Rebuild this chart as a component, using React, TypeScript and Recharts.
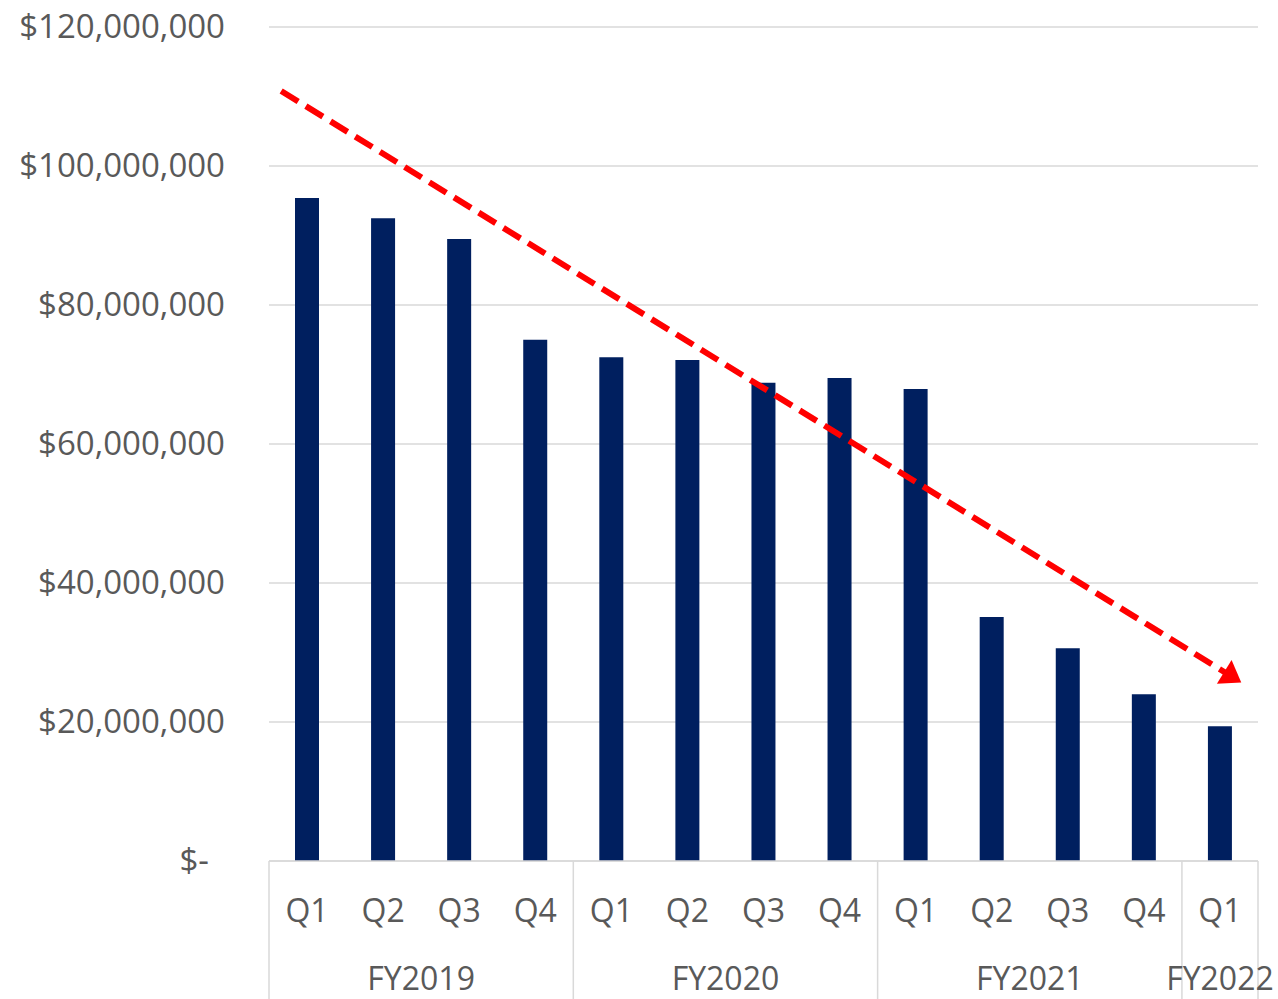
import { Bar, CartesianGrid, ComposedChart, ReferenceLine, XAxis, YAxis } from "recharts";

const quarters = ["Q1", "Q2", "Q3", "Q4", "Q1", "Q2", "Q3", "Q4", "Q1", "Q2", "Q3", "Q4", "Q1"];
const fiscalYears = [
  "FY2019", "FY2019", "FY2019", "FY2019",
  "FY2020", "FY2020", "FY2020", "FY2020",
  "FY2021", "FY2021", "FY2021", "FY2021",
  "FY2022",
];
const amounts = [
  95400000, 92500000, 89500000, 75000000,
  72500000, 72100000, 68800000, 69500000,
  67900000, 35100000, 30600000, 24000000,
  19400000,
];
const yTicks = [0, 20000000, 40000000, 60000000, 80000000, 100000000, 120000000];
// trend arrow, x in category units (0 = left edge of plot)
const trendStart = { x: 0.16, y: 110800000 };
const trendEnd = { x: 12.78, y: 25700000 };

const data = quarters.map((q, i) => ({ key: i, pos: i + 0.5, q, fy: fiscalYears[i], value: amounts[i] }));

const W = 1278;
const H = 999;
const LEFT = 269;
const RIGHT = 20;
const TOP = 27;
const PLOT_BOTTOM = 861;
const STEP = (W - LEFT - RIGHT) / data.length;
const TEXT = "#595959";
const GRID = "#d9d9d9";
const FONT = "'Open Sans', sans-serif";

const money = (v: number) => (v === 0 ? "$-" : "$" + v.toLocaleString("en-US"));

function YTick({ x, y, payload }: any) {
  const zero = payload.value === 0;
  return (
    <text x={zero ? x - 16 : x} y={y + 11} textAnchor="end" fill={TEXT} fontSize={33} fontFamily={FONT}>
      {money(payload.value)}
    </text>
  );
}

function QTick({ x, payload }: any) {
  return (
    <text x={x} y={922} textAnchor="middle" fill={TEXT} fontSize={32} fontFamily={FONT}>
      {quarters[payload.value]}
    </text>
  );
}

function YearTick({ x, index }: any) {
  const fy = fiscalYears[index];
  const first = index === 0 || fiscalYears[index - 1] !== fy;
  const last = index === fiscalYears.length - 1;
  if (!first && !last) return null;
  const size = fiscalYears.filter((f) => f === fy).length;
  const cx = x + ((size - 1) / 2) * STEP;
  return (
    <g>
      {first && <line x1={x - STEP / 2} x2={x - STEP / 2} y1={PLOT_BOTTOM} y2={H} stroke={GRID} strokeWidth={1.5} />}
      {last && <line x1={x + STEP / 2} x2={x + STEP / 2} y1={PLOT_BOTTOM} y2={H} stroke={GRID} strokeWidth={1.5} />}
      {first && (
        <text x={cx} y={990} textAnchor="middle" fill={TEXT} fontSize={32} fontFamily={FONT}>
          {fy}
        </text>
      )}
    </g>
  );
}

function Arrow(props: any) {
  const { x1, y1, x2, y2 } = props;
  if (x1 == null || x2 == null) return <g />;
  const dx = x2 - x1;
  const dy = y2 - y1;
  const len = Math.sqrt(dx * dx + dy * dy);
  const ux = dx / len;
  const uy = dy / len;
  const head = 20;
  const half = 14;
  const bx = x2 - ux * head;
  const by = y2 - uy * head;
  return (
    <g>
      <line x1={x1} y1={y1} x2={bx + ux * 2} y2={by + uy * 2} stroke="#ff0000" strokeWidth={6} strokeDasharray="20 9" />
      <polygon
        points={`${x2},${y2} ${bx - uy * half},${by + ux * half} ${bx + uy * half},${by - ux * half}`}
        fill="#ff0000"
      />
    </g>
  );
}

export default function App() {
  return (
    <div style={{ position: "absolute", left: 0, top: 0, background: "#fff" }}>
      <ComposedChart width={W} height={H} data={data} margin={{ top: TOP, right: RIGHT, bottom: 0, left: 0 }}>
        <CartesianGrid vertical={false} stroke={GRID} strokeWidth={1.5} />
        <XAxis
          dataKey="key"
          tick={<QTick />}
          interval={0}
          height={70}
          axisLine={{ stroke: GRID, strokeWidth: 1.5 }}
          tickLine={false}
        />
        <XAxis
          xAxisId="year"
          dataKey="key"
          tick={<YearTick />}
          interval={0}
          height={68}
          axisLine={false}
          tickLine={false}
        />
        <XAxis
          xAxisId="trend"
          dataKey="pos"
          type="number"
          domain={[0, data.length]}
          allowDataOverflow
          hide
        />
        <YAxis
          width={LEFT}
          domain={[0, 120000000]}
          ticks={yTicks}
          tick={<YTick />}
          axisLine={false}
          tickLine={false}
          tickMargin={44}
          tickSize={0}
        />
        <Bar dataKey="value" fill="#001f5f" barSize={24} isAnimationActive={false} />
        <ReferenceLine
          xAxisId="trend"
          segment={[trendStart, trendEnd]}
          ifOverflow="visible"
          stroke="#ff0000"
          shape={(p: any) => <Arrow {...p} />}
        />
      </ComposedChart>
    </div>
  );
}
